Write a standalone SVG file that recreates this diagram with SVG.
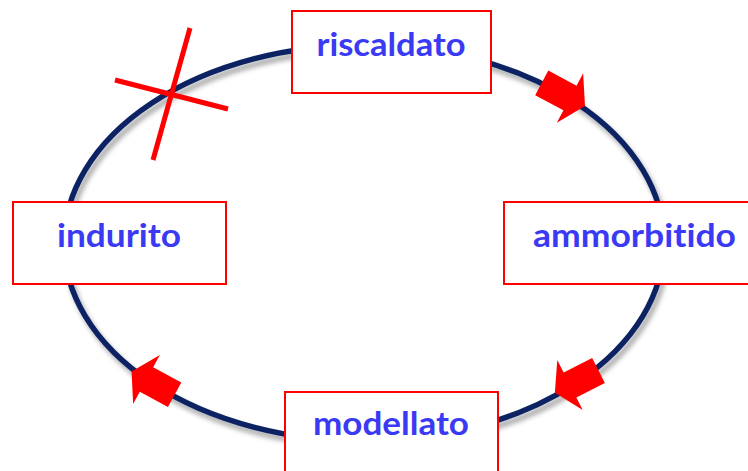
<svg xmlns="http://www.w3.org/2000/svg" width="748" height="471" viewBox="0 0 748 471">
<defs>
<filter id="sh" x="-10%" y="-10%" width="120%" height="125%">
<feDropShadow dx="3" dy="5" stdDeviation="2.5" flood-color="#000" flood-opacity="0.35"/>
</filter>
<polygon id="blockArrow" points="-32,-14 0,-14 0,-28 17,0 0,28 0,14 -32,14"/>
<style>
.ring{fill:none;stroke:#0a2462;stroke-width:5.5}
.arr{fill:#ff0000}
.box{fill:#ffffff;stroke:#ff0000;stroke-width:2}
.lbl{font-family:Lato,"Open Sans","Liberation Sans",sans-serif;font-weight:bold;font-size:32px;fill:#3a3af5;text-anchor:middle;font-variant-ligatures:none;font-feature-settings:"liga" 0,"dlig" 0}
.cross{stroke:#ff0000;stroke-width:5;stroke-linecap:butt}
</style>
</defs>
<rect width="748" height="471" fill="#ffffff"/>
<g id="connectors">
<ellipse class="ring" cx="364" cy="243" rx="300" ry="198" filter="url(#sh)"/>
<use href="#blockArrow" class="arr" transform="translate(570,98) rotate(28)"/>
<use href="#blockArrow" class="arr" transform="translate(570,385) rotate(153)"/>
<use href="#blockArrow" class="arr" transform="translate(146.5,379.5) rotate(208.5)"/>
</g>
<g id="cross">
<line class="cross" x1="190" y1="28" x2="153" y2="160"/>
<line class="cross" x1="115" y1="80" x2="228" y2="109"/>
</g>
<g id="node-riscaldato">
<rect class="box" x="292" y="11" width="199" height="82"/>
<text class="lbl" x="391" y="56" textLength="149" lengthAdjust="spacingAndGlyphs">riscaldato</text>
</g>
<g id="node-ammorbitido">
<rect class="box" x="504" y="202" width="260" height="82"/>
<text class="lbl" x="634.5" y="247" textLength="203" lengthAdjust="spacingAndGlyphs">ammorbitido</text>
</g>
<g id="node-modellato">
<rect class="box" x="285" y="392" width="213" height="100"/>
<text class="lbl" x="391" y="435" textLength="156" lengthAdjust="spacingAndGlyphs">modellato</text>
</g>
<g id="node-indurito">
<rect class="box" x="13" y="202" width="213" height="82"/>
<text class="lbl" x="119" y="247" textLength="124" lengthAdjust="spacingAndGlyphs">indurito</text>
</g>
</svg>
